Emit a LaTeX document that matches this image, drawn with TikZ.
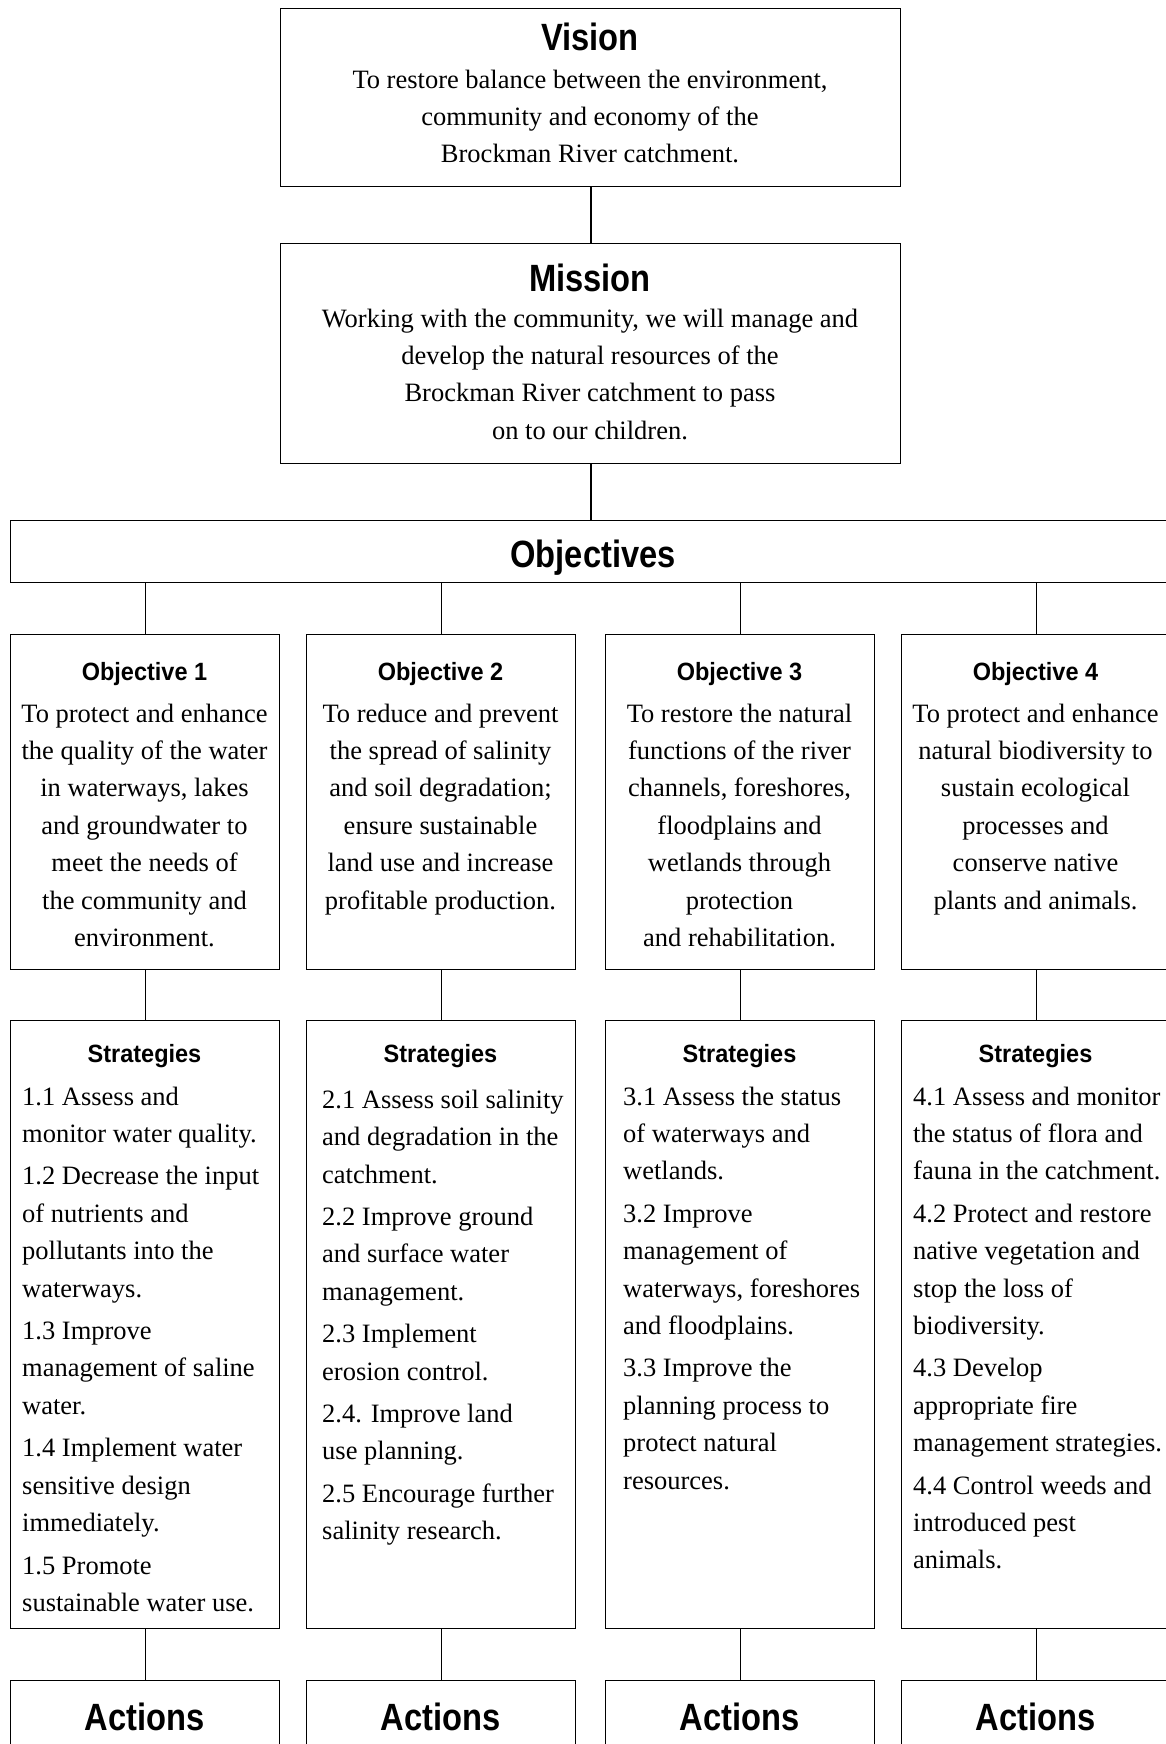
\documentclass[tikz,border=0pt]{standalone}
\usepackage{fontspec}
\setmainfont{Liberation Serif}
\newfontfamily\headfont[FakeStretch=0.86]{Liberation Sans}
\newfontfamily\subheadfont[FakeStretch=0.94]{Liberation Sans}
\usepackage{tikz}

\tikzset{
  box/.style={draw, line width=1.2pt, inner sep=0pt, anchor=north west},
  bigtitle/.style={font=\headfont\bfseries\fontsize{38}{40}\selectfont, anchor=base, inner sep=0pt},
  subtitle/.style={font=\subheadfont\bfseries\fontsize{25}{28}\selectfont, anchor=base, inner sep=0pt},
  bodytext/.style={font=\fontsize{26.5}{37.4}\selectfont, inner sep=0pt, anchor=north, align=center},
  listtext/.style={font=\fontsize{26.5}{37.4}\selectfont, inner sep=0pt, anchor=north west, align=left},
  link/.style={line width=0.9pt},
  mainlink/.style={line width=1.8pt}
}

\begin{document}
\begin{tikzpicture}[x=1pt,y=-1pt]
  \useasboundingbox (0,0) rectangle (1166,1744);
  % Vision and mission
  \node[box, minimum width=620pt, minimum height=178pt] (vision) at (280,8) {};
  \node[bigtitle] (visiontitle) at (590,51) {Vision};
  \node[bodytext] (visiontext) at (590,61.8) {\strut To restore balance between the environment,\\ community and economy of the\\ Brockman River catchment.};
  \node[box, minimum width=620pt, minimum height=220pt] (mission) at (280,243) {};
  \node[bigtitle] (missiontitle) at (590,291) {Mission};
  \node[bodytext] (missiontext) at (590,300.8) {\strut Working with the community, we will manage and\\ develop the natural resources of the\\ Brockman River catchment to pass\\ on to our children.};
  \draw[mainlink] (vision.south) -- (mission.north);
  % Objectives bar
  \node[box, minimum width=1166pt, minimum height=62pt] (objbar) at (10,520) {};
  \node[bigtitle] (objbartitle) at (593,567) {Objectives};
  \draw[mainlink] (mission.south) -- (mission.south |- objbar.north);
  % Columns: objective, strategies, actions
  \foreach \i/\x in {1/10,2/306,3/605,4/901}{
    \node[box, minimum width=269pt, minimum height=335pt] (obj\i) at (\x,634) {};
    \node[box, minimum width=269pt, minimum height=608pt] (strat\i) at (\x,1020) {};
    \node[box, minimum width=269pt, minimum height=150pt] (act\i) at (\x,1680) {};
    \draw[link] (obj\i.north) -- (obj\i.north |- objbar.south);
    \draw[link] (obj\i.south) -- (strat\i.north);
    \draw[link] (strat\i.south) -- (act\i.north);
    \node[subtitle] (objtitle\i) at (\x+134.5,680) {Objective \i};
    \node[subtitle] (strattitle\i) at (\x+134.5,1062) {Strategies};
    \node[bigtitle] (acttitle\i) at (\x+134.5,1730) {Actions};
  }
  % Objective texts
  \node[bodytext] (objtext1) at (144.5,695.8) {\strut To protect and enhance\\ the quality of the water\\ in waterways, lakes\\ and groundwater to\\ meet the needs of\\ the community and\\ environment.};
  \node[bodytext] (objtext2) at (440.5,695.8) {\strut To reduce and prevent\\ the spread of salinity\\ and soil degradation;\\ ensure sustainable\\ land use and increase\\ profitable production.};
  \node[bodytext] (objtext3) at (739.5,695.8) {\strut To restore the natural\\ functions of the river\\ channels, foreshores,\\ floodplains and\\ wetlands through\\ protection\\ and rehabilitation.};
  \node[bodytext] (objtext4) at (1035.5,695.8) {\strut To protect and enhance\\ natural biodiversity to\\ sustain ecological\\ processes and\\ conserve native\\ plants and animals.};
  % Strategy lists
  \node[listtext] (strattext1) at (22,1078.8) {\strut 1.1 Assess and\\ monitor water quality.\\[5pt] 1.2 Decrease the input\\ of nutrients and\\ pollutants into the\\ waterways.\\[5pt] 1.3 Improve\\ management of saline\\ water.\\[5pt] 1.4 Implement water\\ sensitive design\\ immediately.\\[5pt] 1.5 Promote\\ sustainable water use.};
  \node[listtext] (strattext2) at (322,1082) {\strut 2.1 Assess soil salinity\\ and degradation in the\\ catchment.\\[5pt] 2.2 Improve ground\\ and surface water\\ management.\\[5pt] 2.3 Implement\\ erosion control.\\[5pt] 2.4. Improve land\\ use planning.\\[5pt] 2.5 Encourage further\\ salinity research.};
  \node[listtext] (strattext3) at (623,1078.8) {\strut 3.1 Assess the status\\ of waterways and\\ wetlands.\\[5pt] 3.2 Improve\\ management of\\ waterways, foreshores\\ and floodplains.\\[5pt] 3.3 Improve the\\ planning process to\\ protect natural\\ resources.};
  \node[listtext] (strattext4) at (913,1078.8) {\strut 4.1 Assess and monitor\\ the status of flora and\\ fauna in the catchment.\\[5pt] 4.2 Protect and restore\\ native vegetation and\\ stop the loss of\\ biodiversity.\\[5pt] 4.3 Develop\\ appropriate fire\\ management strategies.\\[5pt] 4.4 Control weeds and\\ introduced pest\\ animals.};
\end{tikzpicture}
\end{document}
